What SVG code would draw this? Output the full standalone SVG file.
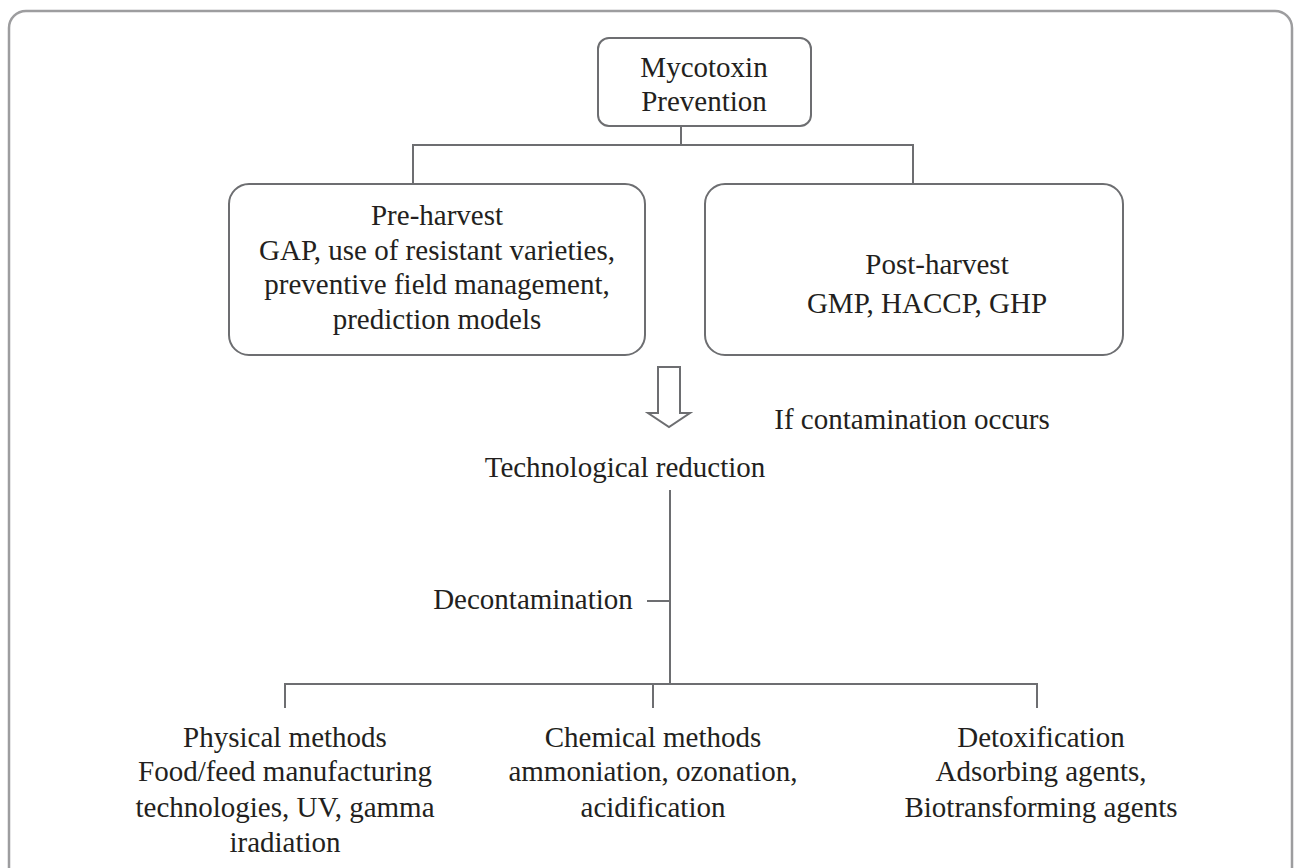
<svg xmlns="http://www.w3.org/2000/svg" width="1297" height="868" viewBox="0 0 1297 868">
<style>
.frame{fill:#fff;stroke:#9d9d9f;stroke-width:2.5}
.box{fill:#fff;stroke:#6d6e71;stroke-width:2}
.ln{fill:none;stroke:#6d6e71;stroke-width:2}
text{font-family:"Liberation Serif","Times New Roman",serif;font-size:29px;fill:#231f20;text-anchor:middle}
</style>
<rect class="frame" x="9" y="11" width="1283" height="880" rx="17"/>
<g id="connectors">
<path class="ln" d="M681 126 V145"/>
<path class="ln" d="M413 184 V145 H913 V184"/>
<polygon class="ln" points="658,367 680,367 680,413 690,413 669,427 648,413 658,413"/>
<path class="ln" d="M670 490 V684"/>
<path class="ln" d="M647 601 H670"/>
<path class="ln" d="M285 708 V684 H1037 V708"/>
<path class="ln" d="M653 684 V708"/>
</g>
<g id="mycotoxin">
<rect class="box" x="598" y="38" width="213" height="88" rx="11"/>
<text x="704" y="77">Mycotoxin</text>
<text x="704" y="111">Prevention</text>
</g>
<g id="preharvest">
<rect class="box" x="229" y="184" width="416" height="171" rx="20"/>
<text x="437" y="225">Pre-harvest</text>
<text x="437" y="260">GAP, use of resistant varieties,</text>
<text x="437" y="294">preventive field management,</text>
<text x="437" y="329">prediction models</text>
</g>
<g id="postharvest">
<rect class="box" x="705" y="184" width="418" height="171" rx="20"/>
<text x="937" y="274">Post-harvest</text>
<text x="927" y="313">GMP, HACCP, GHP</text>
</g>
<g id="contamination">
<text x="912" y="429">If contamination occurs</text>
</g>
<g id="techreduction">
<text x="625" y="477">Technological reduction</text>
</g>
<g id="decontamination">
<text x="533" y="609">Decontamination</text>
</g>
<g id="physical">
<text x="285" y="747">Physical methods</text>
<text x="285" y="781">Food/feed manufacturing</text>
<text x="285" y="817">technologies, UV, gamma</text>
<text x="285" y="852">iradiation</text>
</g>
<g id="chemical">
<text x="653" y="747">Chemical methods</text>
<text x="653" y="781">ammoniation, ozonation,</text>
<text x="653" y="817">acidification</text>
</g>
<g id="detox">
<text x="1041" y="747">Detoxification</text>
<text x="1041" y="781">Adsorbing agents,</text>
<text x="1041" y="817">Biotransforming agents</text>
</g>
</svg>
